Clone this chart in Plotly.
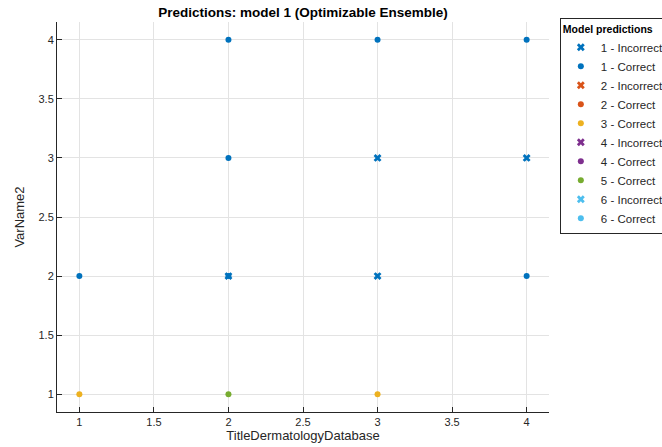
import plotly.graph_objects as go

# Data
correct_1_x = [1, 2, 2, 2, 3, 4, 4]
correct_1_y = [2, 4, 3, 2, 4, 4, 2]
incorrect_1_x = [2, 3, 3, 4]
incorrect_1_y = [2, 3, 2, 3]
correct_3_x = [1, 3]
correct_3_y = [1, 1]
correct_5_x = [2]
correct_5_y = [1]
# classes listed in the legend but with no visible points
empty_x = [None]
empty_y = [None]

colors = {1: "#0072BD", 2: "#D95319", 3: "#EDB120", 4: "#7E2F8E", 5: "#77AC30", 6: "#4DBEEE"}

series = [
    ("1 - Incorrect", incorrect_1_x, incorrect_1_y, 1, "x"),
    ("1 - Correct", correct_1_x, correct_1_y, 1, "circle"),
    ("2 - Incorrect", empty_x, empty_y, 2, "x"),
    ("2 - Correct", empty_x, empty_y, 2, "circle"),
    ("3 - Correct", correct_3_x, correct_3_y, 3, "circle"),
    ("4 - Incorrect", empty_x, empty_y, 4, "x"),
    ("4 - Correct", empty_x, empty_y, 4, "circle"),
    ("5 - Correct", correct_5_x, correct_5_y, 5, "circle"),
    ("6 - Incorrect", empty_x, empty_y, 6, "x"),
    ("6 - Correct", empty_x, empty_y, 6, "circle"),
]

fig = go.Figure()
for name, xs, ys, cls, sym in series:
    fig.add_trace(go.Scatter(
        x=xs, y=ys, mode="markers", name=name, showlegend=True,
        marker=dict(color=colors[cls], symbol=sym, size=7 if sym == "x" else 6,
                    line=dict(width=0)),
    ))

font = "Liberation Sans, Arial, sans-serif"
axis_common = dict(
    showline=True, linecolor="#262626", linewidth=1,
    ticks="inside", ticklen=5, tickcolor="#262626",
    showgrid=True, gridcolor="#e3e3e3", gridwidth=1,
    zeroline=False, mirror=False,
    tickfont=dict(family=font, size=11, color="#262626"),
)

fig.update_layout(
    width=662, height=447,
    paper_bgcolor="white", plot_bgcolor="white",
    margin=dict(l=57, r=113, t=22, b=35, autoexpand=False),
    title=dict(text="<b>Predictions: model 1 (Optimizable Ensemble)</b>",
               x=(57 + 549) / 2 / 662, xanchor="center", y=0.973, yanchor="middle",
               font=dict(family=font, size=13.5, color="black")),
    xaxis=dict(range=[0.85, 4.15], tickvals=[1, 1.5, 2, 2.5, 3, 3.5, 4],
               title=dict(text="TitleDermatologyDatabase", standoff=1,
                          font=dict(family=font, size=13, color="#262626")),
               **axis_common),
    yaxis=dict(range=[0.85, 4.15], tickvals=[1, 1.5, 2, 2.5, 3, 3.5, 4],
               title=dict(text="VarName2", standoff=10,
                          font=dict(family=font, size=13, color="#262626")),
               **axis_common),
    showlegend=True,
    legend=dict(
        x=1.022, xanchor="left", y=1.01, yanchor="top",
        title=dict(text="<b>Model predictions</b>", side="top",
                   font=dict(family=font, size=10.5, color="black")),
        font=dict(family=font, size=11.5, color="#262626"),
        bordercolor="#262626", borderwidth=1, bgcolor="white",
        tracegroupgap=0, itemwidth=30,
    ),
)

fig.write_html("out.html", config={"displayModeBar": False},
               post_script="document.body.style.margin='0';")
